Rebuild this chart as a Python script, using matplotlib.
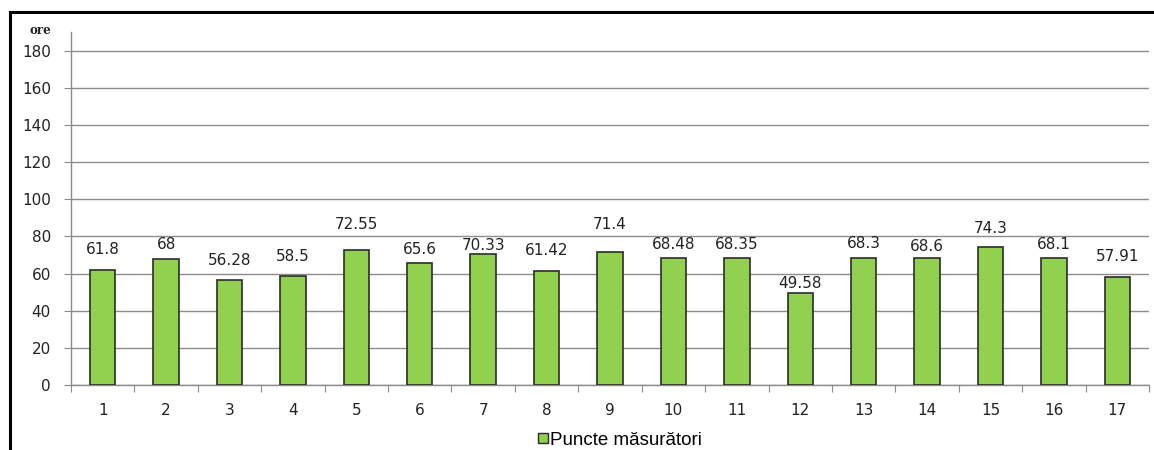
import numpy as np
import matplotlib.pyplot as plt
from matplotlib.lines import Line2D

# ore per punct de masurare
puncte = [str(i) for i in range(1, 18)]
ore = [61.8, 68, 56.28, 58.5, 72.55, 65.6, 70.33, 61.42, 71.4,
       68.48, 68.35, 49.58, 68.3, 68.6, 74.3, 68.1, 57.91]
y_ticks = [0, 20, 40, 60, 80, 100, 120, 140, 160, 180]

# distanta de la varful barei la centrul etichetei (puncte)
label_gap = [15, 10, 14.5, 14, 18.5, 9.5, 6.5, 14.5, 20, 9.5, 9.5, 6.5, 10.5, 8, 13.5, 10, 15]

verde = '#92D050'
gri = '#8c8c8c'
text_col = '#222222'

plt.rcParams['font.family'] = ['DejaVu Sans']

fig = plt.figure(figsize=(11.54, 4.5), dpi=100)
ax = fig.add_axes([71/1154, 1 - 385/450, 1078/1154, 353/450])

x = np.arange(len(puncte))
ax.bar(x, ore, width=0.4, color=verde, edgecolor='#2b2b2b', linewidth=1.2, zorder=3)

for xi, v, g in zip(x, ore, label_gap):
    ax.annotate(f'{v:g}', (xi, v), xytext=(0, g), textcoords='offset points',
                ha='center', va='center', fontsize=11, color=text_col)

ax.set_xlim(-0.5, len(puncte) - 0.5)
ax.set_ylim(0, 190)
ax.set_yticks(y_ticks)
ax.tick_params(axis='y', length=5, color=gri, labelsize=11, labelcolor=text_col, pad=9.5)
ax.yaxis.grid(True, color=gri, linewidth=1.0, zorder=0)

# diviziuni intre categorii, etichete pe centru
ax.set_xticks(np.arange(-0.5, len(puncte), 1.0))
ax.set_xticklabels([])
ax.set_xticks(x, minor=True)
ax.set_xticklabels(puncte, minor=True)
ax.tick_params(axis='x', which='major', length=5, color=gri)
ax.tick_params(axis='x', which='minor', length=0, labelsize=11, labelcolor=text_col, pad=13)

for s in ['top', 'right']:
    ax.spines[s].set_visible(False)
for s in ['left', 'bottom']:
    ax.spines[s].set_color(gri)
    ax.spines[s].set_linewidth(1.0)

fig.text(30/1154, 1 - 30/450, 'ore', fontsize=8.5, fontweight='bold',
         family='DejaVu Serif', color=text_col, va='center')

handle = Line2D([], [], marker='s', linestyle='none', markersize=7,
                markerfacecolor=verde, markeredgecolor='#2b2b2b')
fig.legend([handle], ['Puncte măsurători'], loc='center', bbox_to_anchor=(618/1154, 1 - 440/450),
           frameon=False, prop={'family': 'Liberation Sans', 'size': 13.5},
           handletextpad=-0.1, handlelength=1.0, borderaxespad=0)

# chenarul graficului
fig.add_artist(Line2D([10/1154, 1], [1 - 12/450, 1 - 12/450], color='black', linewidth=2.2,
                      transform=fig.transFigure))
fig.add_artist(Line2D([10/1154, 10/1154], [0, 1 - 12/450], color='black', linewidth=2.2,
                      transform=fig.transFigure))

fig.savefig('out.png', dpi=100)
